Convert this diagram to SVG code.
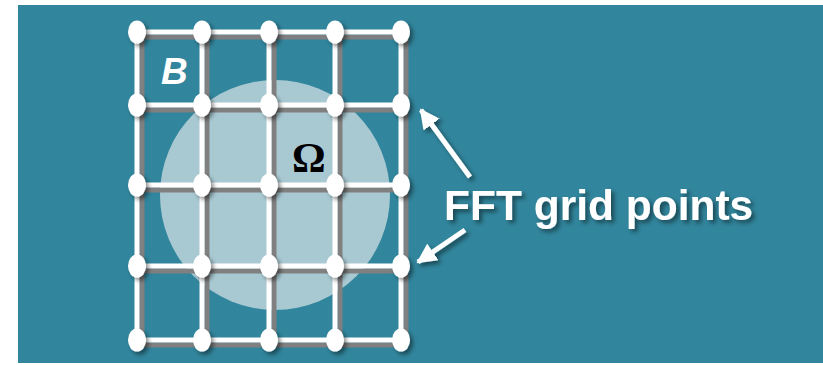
<svg xmlns="http://www.w3.org/2000/svg" width="823" height="365" viewBox="0 0 823 365">
<defs>
<style>
.bg{fill:#31859c}
.gs{stroke:#808080;stroke-width:5;fill:none}
.gw{stroke:#ffffff;stroke-width:5;fill:none}
.nd{fill:#ffffff}
.arr{stroke:#ffffff;stroke-width:5;fill:none}
.lbl{font-family:"Liberation Sans",Arial,sans-serif;font-weight:bold;fill:#ffffff}
</style>
<filter id="sh" x="-20%" y="-20%" width="150%" height="150%">
<feDropShadow dx="3" dy="3" stdDeviation="2" flood-color="#000000" flood-opacity="0.45"/>
</filter>
<marker id="ah" viewBox="0 0 10 10" refX="9" refY="5" markerWidth="4" markerHeight="4" markerUnits="strokeWidth" orient="auto">
<path d="M0,0 L10,5 L0,10 z" fill="#ffffff"/>
</marker>
</defs>
<rect class="bg" x="18" y="5" width="805" height="358"/>
<circle id="omega-region" cx="275" cy="195" r="115" fill="#a9c9d2"/>
<g id="grid-shadow" class="gs" transform="translate(5,5)">
<path d="M137,32V340M202,32V340M269,32V340M335,32V340M401,32V340"/>
<path d="M137,32H401M137,105H401M137,185H401M137,266H401M137,340H401"/>
</g>
<g id="grid" class="gw">
<path d="M137,32V340M202,32V340M269,32V340M335,32V340M401,32V340"/>
<path d="M137,32H401M137,105H401M137,185H401M137,266H401M137,340H401"/>
</g>
<g id="nodes" class="nd" filter="url(#sh)">
<g id="n-r1"><ellipse cx="137" cy="32" rx="9" ry="11.5"/><ellipse cx="202" cy="32" rx="9" ry="11.5"/><ellipse cx="269" cy="32" rx="9" ry="11.5"/><ellipse cx="335" cy="32" rx="9" ry="11.5"/><ellipse cx="401" cy="32" rx="9" ry="11.5"/></g>
<g id="n-r2"><ellipse cx="137" cy="105" rx="9" ry="11.5"/><ellipse cx="202" cy="105" rx="9" ry="11.5"/><ellipse cx="269" cy="105" rx="9" ry="11.5"/><ellipse cx="335" cy="105" rx="9" ry="11.5"/><ellipse cx="401" cy="105" rx="9" ry="11.5"/></g>
<g id="n-r3"><ellipse cx="137" cy="185" rx="9" ry="11.5"/><ellipse cx="202" cy="185" rx="9" ry="11.5"/><ellipse cx="269" cy="185" rx="9" ry="11.5"/><ellipse cx="335" cy="185" rx="9" ry="11.5"/><ellipse cx="401" cy="185" rx="9" ry="11.5"/></g>
<g id="n-r4"><ellipse cx="137" cy="266" rx="9" ry="11.5"/><ellipse cx="202" cy="266" rx="9" ry="11.5"/><ellipse cx="269" cy="266" rx="9" ry="11.5"/><ellipse cx="335" cy="266" rx="9" ry="11.5"/><ellipse cx="401" cy="266" rx="9" ry="11.5"/></g>
<g id="n-r5"><ellipse cx="137" cy="340" rx="9" ry="11.5"/><ellipse cx="202" cy="340" rx="9" ry="11.5"/><ellipse cx="269" cy="340" rx="9" ry="11.5"/><ellipse cx="335" cy="340" rx="9" ry="11.5"/><ellipse cx="401" cy="340" rx="9" ry="11.5"/></g>
</g>
<text id="label-B" class="lbl" x="161" y="84" font-size="37" font-style="italic">B</text>
<text id="label-omega" x="292" y="172" font-family="'Liberation Serif','Times New Roman',serif" font-weight="bold" font-size="42" fill="#000000">Ω</text>
<g id="connectors" filter="url(#sh)">
<line class="arr" x1="470" y1="177" x2="421" y2="110" marker-end="url(#ah)"/>
<line class="arr" x1="465" y1="230" x2="418" y2="262" marker-end="url(#ah)"/>
</g>
<text id="label-fft" class="lbl" x="444" y="220" font-size="42.5" filter="url(#sh)">FFT grid points</text>
</svg>
